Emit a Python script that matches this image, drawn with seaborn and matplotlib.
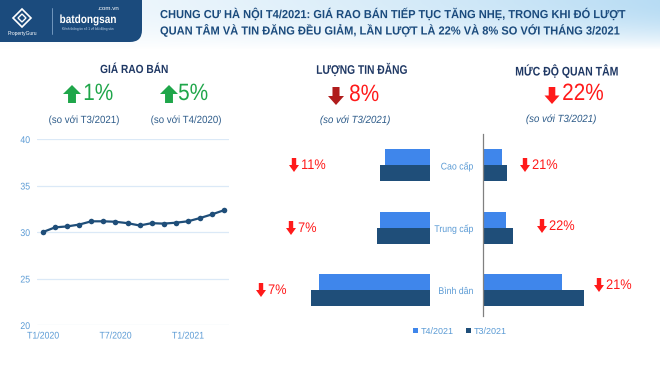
import numpy as np
import pandas as pd
import matplotlib
matplotlib.use("Agg")
import matplotlib.pyplot as plt
import seaborn as sns
from matplotlib.patches import Polygon, FancyBboxPatch
from matplotlib.patheffects import AbstractPathEffect
from matplotlib.transforms import Affine2D

sns.set_theme(style="white")
plt.rcParams["font.family"] = ["Liberation Sans", "DejaVu Sans"]

# Dữ liệu
title_lines = ["CHUNG CƯ HÀ NỘI T4/2021: GIÁ RAO BÁN TIẾP TỤC TĂNG NHẸ, TRONG KHI ĐÓ LƯỢT",
               "QUAN TÂM VÀ TIN ĐĂNG ĐỀU GIẢM, LẦN LƯỢT LÀ 22% VÀ 8% SO VỚI THÁNG 3/2021"]

months = ["T1/2020", "T2/2020", "T3/2020", "T4/2020", "T5/2020", "T6/2020", "T7/2020", "T8/2020",
          "T9/2020", "T10/2020", "T11/2020", "T12/2020", "T1/2021", "T2/2021", "T3/2021", "T4/2021"]
price = [30.0, 30.5, 30.6, 30.8, 31.15, 31.15, 31.1, 30.95, 30.7, 30.95, 30.9, 31.0, 31.15, 31.5, 31.9, 32.35]
month_ticks = ["T1/2020", "T7/2020", "T1/2021"]

segments = ["Cao cấp", "Trung cấp", "Bình dân"]
periods = ["T4/2021", "T3/2021"]
listings_t4 = [45, 50, 111]
listings_t3 = [50, 53, 119]
interest_t4 = [19, 23, 79]
interest_t3 = [24, 30, 101]
listing_change = ["11%", "7%", "7%"]
interest_change = ["21%", "22%", "21%"]

C_T4 = "#3f86eb"
C_T3 = "#1f4e79"
C_TICK = "#5b9bd5"
C_HEAD = "#1f3864"
C_SUB = "#2e5c8a"
RED = "#ff1a1a"
DARKRED = "#b01c1c"
GREEN = "#1fa64a"


class Squeeze(AbstractPathEffect):
    # nén chữ theo chiều ngang (giống font Narrow)
    def __init__(self, sx, anchor="left"):
        super().__init__()
        self.sx = sx
        self.anchor = anchor

    def draw_path(self, renderer, gc, tpath, affine, rgbFace=None):
        ext = tpath.get_extents()
        x0 = {"left": ext.x0, "center": (ext.x0 + ext.x1) / 2, "right": ext.x1}[self.anchor]
        t = Affine2D().translate(-x0, 0).scale(self.sx, 1).translate(x0, 0) + affine
        renderer.draw_path(gc, tpath, t, rgbFace)


fig = plt.figure(figsize=(6.6, 3.72), dpi=100)

# nền + header (toạ độ pixel)
bg = fig.add_axes([0, 0, 1, 1], zorder=-1)
bg.set_xlim(0, 660)
bg.set_ylim(372, 0)
bg.axis("off")
tx = np.linspace(0, 1, 660)[None, :]
ty = np.linspace(0, 1, 50)[:, None]
a = (0.12 + 0.5 * tx ** 1.5) * (1 - ty ** 2)
blue = np.array([0.55, 0.78, 0.93])
grad = (1 - a)[..., None] * np.ones(3) + a[..., None] * blue
bg.imshow(grad, extent=(0, 660, 50, 0), aspect="auto", zorder=0)
bg.add_patch(FancyBboxPatch((-20, -20), 162, 62, boxstyle="round,pad=0,rounding_size=12",
                            fc="#1b4b7d", ec="none", zorder=1))
bg.add_patch(Polygon([(22, 9), (31, 18), (22, 27), (13, 18)], closed=True, fc="none", ec="white",
                     lw=1.2, zorder=2))
bg.add_patch(Polygon([(22, 14), (26, 18), (22, 22), (18, 18)], closed=True, fc="none", ec="white",
                     lw=1.0, zorder=2))
bg.text(22, 33, "PropertyGuru", color="white", fontsize=3.5, ha="center", va="center", zorder=2)
bg.plot([52, 52], [8, 34], color="#7fa3c8", lw=0.6, zorder=2)
bg.text(88, 20, "batdongsan", color="white", fontsize=8.5, fontweight="bold", ha="center",
        va="center", zorder=2, path_effects=[Squeeze(0.85, "center")])
bg.text(108, 9, ".com.vn", color="white", fontsize=4.5, ha="center", va="center", zorder=2)
bg.text(88, 29, "Kênh thông tin số 1 về bất động sản", color="#c8d8ea", fontsize=2.3, ha="center",
        va="center", zorder=2)
for i, line in enumerate(title_lines):
    bg.text(160, 14 + i * 16, line, color="#1b4b7d", fontsize=8.4, fontweight="bold",
            va="center", ha="left", zorder=2, path_effects=[Squeeze(0.95, "left")])


def block_arrow(xc, ytop, w, h, up, color):
    s = 0.44 * w
    hh = 0.5 * h
    if up:
        pts = [(xc, ytop), (xc + w / 2, ytop + hh), (xc + s / 2, ytop + hh), (xc + s / 2, ytop + h),
               (xc - s / 2, ytop + h), (xc - s / 2, ytop + hh), (xc - w / 2, ytop + hh)]
    else:
        pts = [(xc - s / 2, ytop), (xc + s / 2, ytop), (xc + s / 2, ytop + h - hh), (xc + w / 2, ytop + h - hh),
               (xc, ytop + h), (xc - w / 2, ytop + h - hh), (xc - s / 2, ytop + h - hh)]
    bg.add_patch(Polygon(pts, closed=True, fc=color, ec="none", zorder=3))


def narrow(x, y, s, anchor, sx, **kw):
    bg.text(x, y, s, ha=anchor, va="center", path_effects=[Squeeze(sx, anchor)], **kw)


# tiêu đề các khối
narrow(134, 70, "GIÁ RAO BÁN", "center", 0.86, color=C_HEAD, fontsize=8.5, fontweight="bold")
narrow(362, 70, "LƯỢNG TIN ĐĂNG", "center", 0.82, color=C_HEAD, fontsize=9, fontweight="bold")
narrow(567, 71, "MỨC ĐỘ QUAN TÂM", "center", 0.84, color=C_HEAD, fontsize=9, fontweight="bold")

block_arrow(72, 85, 18, 18, True, GREEN)
narrow(83, 94, "1%", "left", 0.88, color=GREEN, fontsize=17)
block_arrow(169, 85, 18, 18, True, GREEN)
narrow(178, 94, "5%", "left", 0.88, color=GREEN, fontsize=17)
block_arrow(336, 87, 16, 18, False, DARKRED)
narrow(349, 95, "8%", "left", 0.88, color=RED, fontsize=17)
block_arrow(552, 87, 15, 17, False, RED)
narrow(562, 94, "22%", "left", 0.88, color=RED, fontsize=17)

narrow(84, 120, "(so với T3/2021)", "center", 0.93, color=C_SUB, fontsize=7.5)
narrow(186, 120, "(so với T4/2020)", "center", 0.93, color=C_SUB, fontsize=7.5)
narrow(355, 120, "(so với T3/2021)", "center", 0.93, color=C_SUB, fontsize=7.5, style="italic")
narrow(561, 119, "(so với T3/2021)", "center", 0.93, color=C_SUB, fontsize=7.5, style="italic")

# biểu đồ đường giá rao bán
ax1 = fig.add_axes([37 / 660, 1 - 325 / 372, 192 / 660, 186 / 372])
ax1.set_facecolor("none")
dfp = pd.DataFrame({"idx": np.arange(len(months)), "price": price})
sns.lineplot(data=dfp, x="idx", y="price", ax=ax1, color=C_T3, lw=1.6,
             marker="o", markersize=4, markeredgewidth=0)
ax1.set_xlim(-0.5, 15.4)
ax1.set_ylim(20, 40)
ax1.set_yticks([20, 25, 30, 35, 40])
ax1.set_xticks([months.index(m) for m in month_ticks])
ax1.set_xticklabels(month_ticks)
ax1.grid(axis="y", color="#dbe9f7", lw=0.9)
ax1.set_axisbelow(True)
ax1.tick_params(axis="y", length=0, labelsize=7, labelcolor=C_TICK, pad=5)
ax1.tick_params(axis="x", length=0, labelsize=7, labelcolor=C_TICK, pad=4)
ax1.set_xlabel("")
ax1.set_ylabel("")
for sp in ax1.spines.values():
    sp.set_visible(False)
for lbl in ax1.get_xticklabels():
    lbl.set_path_effects([Squeeze(0.9, "center")])
for lbl in ax1.get_yticklabels():
    lbl.set_path_effects([Squeeze(0.9, "right")])

# biểu đồ cột ngang
df_l = pd.DataFrame({"segment": segments * 2, "period": [periods[0]] * 3 + [periods[1]] * 3,
                     "value": listings_t4 + listings_t3})
df_i = pd.DataFrame({"segment": segments * 2, "period": [periods[0]] * 3 + [periods[1]] * 3,
                     "value": interest_t4 + interest_t3})

bottom = 1 - 316 / 372
height = 182 / 372
ax2 = fig.add_axes([300 / 660, bottom, 130 / 660, height])
ax3 = fig.add_axes([483 / 660, bottom, 157 / 660, height])
for ax, d in [(ax2, df_l), (ax3, df_i)]:
    ax.set_facecolor("none")
    sns.barplot(data=d, y="segment", x="value", hue="period", orient="h",
                palette=[C_T4, C_T3], width=0.512, ax=ax, saturation=1,
                edgecolor="none")
    ax.set_ylim(2.416, -0.496)
    ax.set_xlabel("")
    ax.set_ylabel("")
    ax.set_xticks([])
    for sp in ax.spines.values():
        sp.set_visible(False)
handles, labels = ax3.get_legend_handles_labels()
ax2.get_legend().remove()
ax3.get_legend().remove()
ax2.set_xlim(130, 0)
ax2.set_yticks([])
ax3.set_xlim(0, 157)
ax3.spines["left"].set_visible(True)
ax3.spines["left"].set_color("#808080")
ax3.spines["left"].set_linewidth(0.9)
ax3.tick_params(axis="y", length=0, pad=7, labelsize=7, labelcolor=C_TICK)
for lbl in ax3.get_yticklabels():
    lbl.set_path_effects([Squeeze(0.9, "right")])

fig.legend(handles, labels, loc="center", bbox_to_anchor=(460 / 660, 1 - 331 / 372), ncol=2,
           frameon=False, fontsize=6.5, handlelength=0.55, handleheight=0.55, handletextpad=0.35,
           columnspacing=1.3, labelcolor=C_TICK)

# nhãn phần trăm giảm
for (xa, ya), txt in zip([(294, 165), (291, 228), (261, 290)], listing_change):
    block_arrow(xa, ya - 7, 10, 14, False, RED)
    narrow(xa + 7, ya, txt, "left", 0.92, color=RED, fontsize=10)
for (xa, ya), txt in zip([(525, 165), (542, 226), (599, 285)], interest_change):
    block_arrow(xa, ya - 7, 10, 14, False, RED)
    narrow(xa + 7, ya, txt, "left", 0.92, color=RED, fontsize=10)

fig.savefig("out.png", dpi=100)
